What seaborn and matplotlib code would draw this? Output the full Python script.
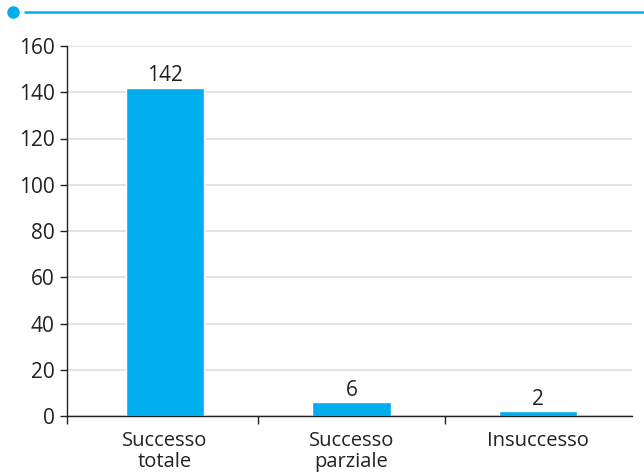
import matplotlib
matplotlib.use("Agg")
import matplotlib.pyplot as plt
import seaborn as sns
import pandas as pd
from matplotlib.lines import Line2D

categories = ["Successo\ntotale", "Successo\nparziale", "Insuccesso"]
values = [142, 6, 2]
yticks = [0, 20, 40, 60, 80, 100, 120, 140, 160]

blue = "#00AEEF"
ink = "#222222"

sns.set_style("white")
plt.rcParams['font.family'] = ['Open Sans', 'DejaVu Sans']

df = pd.DataFrame({"esito": categories, "n": values})

fig = plt.figure(figsize=(6.44, 4.72), dpi=100)
ax = fig.add_axes([67 / 644, 56 / 472, 565 / 644, 370 / 472])

sns.barplot(data=df, x="esito", y="n", color=blue, width=0.42, saturation=1, ax=ax)

# value labels above the bars
for i, v in enumerate(values):
    ax.annotate(str(v), (i, v), xytext=(0, 1), textcoords="offset points",
                ha="center", va="bottom", fontsize=15, color=ink)

ax.set_xlim(-0.525, 2.505)
ax.set_ylim(0, 160)
ax.set_yticks(yticks)
ax.yaxis.grid(True, color="#e3e3e3", linewidth=1.5)
ax.set_axisbelow(True)
ax.set_xlabel("")
ax.set_ylabel("")

for s in ["top", "right"]:
    ax.spines[s].set_visible(False)
for s in ["left", "bottom"]:
    ax.spines[s].set_color(ink)
    ax.spines[s].set_linewidth(1)

ax.tick_params(axis="y", length=5, width=1, color=ink, labelsize=15, labelcolor=ink,
               direction="out", left=True, pad=4)
ax.tick_params(axis="x", which="major", length=0, labelsize=14.5, labelcolor=ink, pad=11)
for lab in ax.get_xticklabels():
    lab.set_linespacing(1.05)
ax.set_xticks([-0.525, 0.5, 1.5], minor=True)
ax.tick_params(axis="x", which="minor", length=6, width=1, color=ink, direction="out", bottom=True)

# decorative header line
fig.add_artist(Line2D([25 / 644, 1.0], [1 - 12 / 472] * 2, color=blue, linewidth=1.8,
                      transform=fig.transFigure))
fig.add_artist(Line2D([13 / 644], [1 - 12 / 472], marker="o", markersize=8, color=blue,
                      transform=fig.transFigure))

fig.savefig("out.png", dpi=100)
